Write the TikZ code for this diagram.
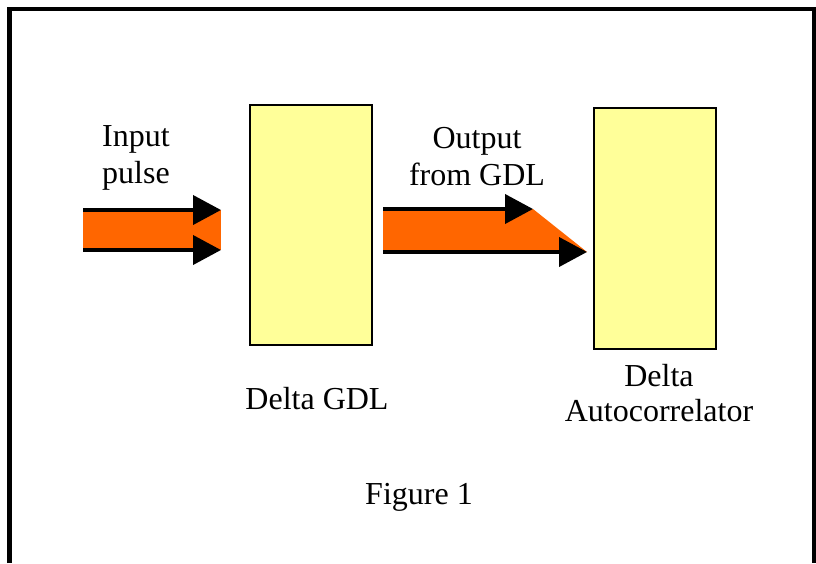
\documentclass[tikz,border=0pt]{standalone}
\usepackage{fontspec}
\setmainfont{Liberation Serif}
\usetikzlibrary{arrows.meta}
\definecolor{pulseorange}{HTML}{FF6600}
\definecolor{boxyellow}{HTML}{FFFF99}
\tikzset{
  lbl/.style={font=\fontsize{32}{38}\selectfont, inner sep=0pt, anchor=base},
  blk/.style={draw=black, line width=2pt, fill=boxyellow},
  beam/.style={line width=4pt, -{Triangle[length=28pt,width=29pt]}},
  frameline/.style={line width=4.5pt},
}
\begin{document}
\begin{tikzpicture}[x=1pt,y=-1pt]
\useasboundingbox (0,0) rectangle (816,563);
% outer frame (open at bottom)
\draw[frameline] (9.5,563) -- (9.5,9) -- (814,9) -- (814,563);
% blocks
\draw[blk] (250,105) rectangle (372,345);
\draw[blk] (594,108) rectangle (716,349);
% input pulse
\coordinate (in1s) at (83,210);
\coordinate (in1e) at (221,210);
\coordinate (in2s) at (83,250);
\coordinate (in2e) at (221,250);
\fill[pulseorange] (83,210) rectangle (221,250);
\draw[beam] (in1s) -- (in1e);
\draw[beam] (in2s) -- (in2e);
% output from GDL
\coordinate (out1s) at (383,209);
\coordinate (out1e) at (533,209);
\coordinate (out2s) at (383,252);
\coordinate (out2e) at (587,252);
\fill[pulseorange] (out1s) -- (out1e) -- (out2e) -- (out2s) -- cycle;
\draw[beam] (out1s) -- (out1e);
\draw[beam] (out2s) -- (out2e);
% labels
\node[lbl] (inA) at (136,146) {Input};
\node[lbl] (inB) at (136,183) {pulse};
\node[lbl] (outA) at (477,148) {Output};
\node[lbl] (outB) at (477,185) {from GDL};
\node[lbl] (gdl) at (317,409) {Delta GDL};
\node[lbl] (acA) at (659,386) {Delta};
\node[lbl] (acB) at (659,421) {Autocorrelator};
\node[lbl] (fig) at (419,504) {Figure 1};
\end{tikzpicture}
\end{document}
